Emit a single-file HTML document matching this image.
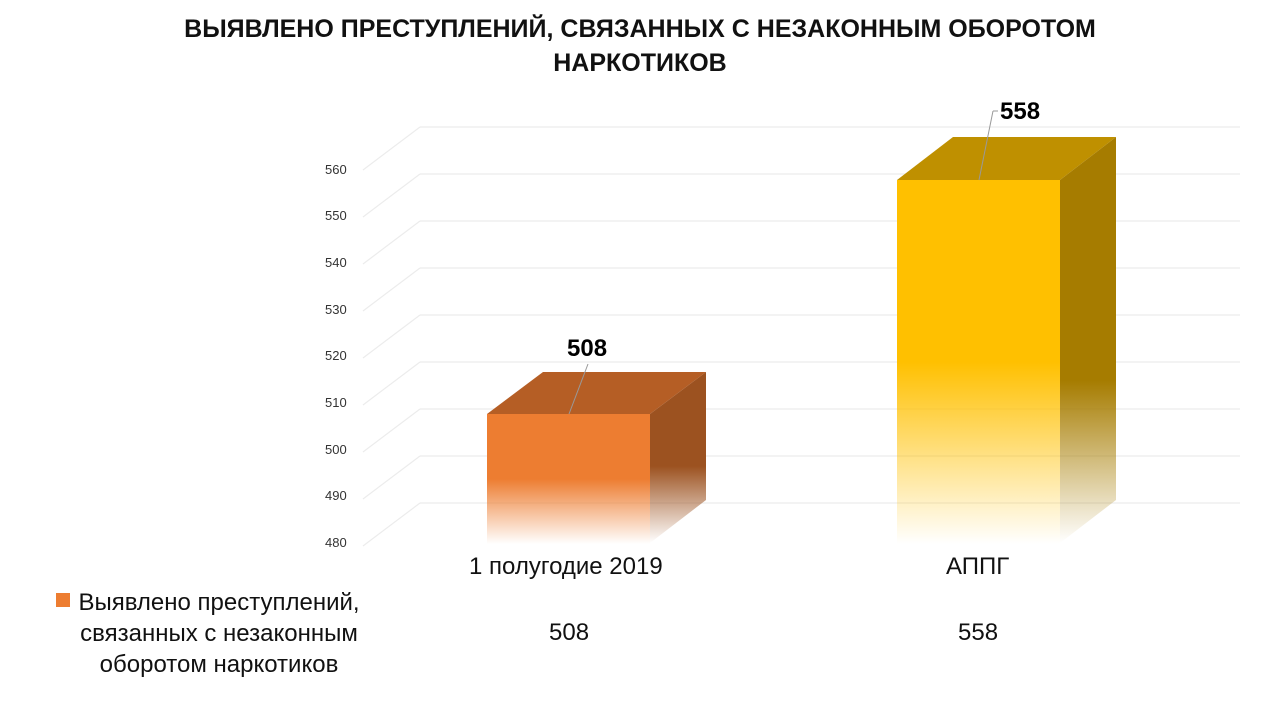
<!DOCTYPE html>
<html><head><meta charset="utf-8"><style>
body{margin:0;width:1280px;height:720px;background:#fff;overflow:hidden;font-family:"Liberation Sans",sans-serif;}
.t{position:absolute;left:0;width:1280px;text-align:center;font-weight:bold;font-size:25px;color:#111;}
.a{position:absolute;font-size:13px;color:#333;}
.c{position:absolute;font-size:24px;color:#111;}
</style></head><body>
<div class="t" style="top:15px">ВЫЯВЛЕНО ПРЕСТУПЛЕНИЙ, СВЯЗАННЫХ С НЕЗАКОННЫМ ОБОРОТОМ</div>
<div class="t" style="top:49px">НАРКОТИКОВ</div>
<svg width="1280" height="720" style="position:absolute;left:0;top:0">
<defs>
<linearGradient id="of" x1="0" y1="0" x2="0" y2="1"><stop offset="0" stop-color="#ed7d31"/><stop offset="0.5" stop-color="#ed7d31"/><stop offset="1" stop-color="#ed7d31" stop-opacity="0"/></linearGradient>
<linearGradient id="os" x1="0" y1="0" x2="0" y2="1"><stop offset="0" stop-color="#9c5220"/><stop offset="0.55" stop-color="#9c5220"/><stop offset="1" stop-color="#9c5220" stop-opacity="0"/></linearGradient>
<linearGradient id="gf" x1="0" y1="0" x2="0" y2="1"><stop offset="0" stop-color="#ffc000"/><stop offset="0.5" stop-color="#ffc000"/><stop offset="1" stop-color="#ffc000" stop-opacity="0"/></linearGradient>
<linearGradient id="gs" x1="0" y1="0" x2="0" y2="1"><stop offset="0" stop-color="#a67c00"/><stop offset="0.6" stop-color="#a67c00"/><stop offset="1" stop-color="#a67c00" stop-opacity="0"/></linearGradient>
</defs>
<g stroke="#ececec" stroke-width="1.2" fill="none">
<path d="M420 127H1240M420 174H1240M420 221H1240M420 268H1240M420 315H1240M420 362H1240M420 409H1240M420 456H1240M420 503H1240"/>
<path d="M363 170L420 127M363 217L420 174M363 264L420 221M363 311L420 268M363 358L420 315M363 405L420 362M363 452L420 409M363 499L420 456M363 546L420 503"/>
</g>
<polygon points="487,414 650,414 706,372 543,372" fill="#b55e25"/>
<polygon points="650,414 706,372 706,500 650,543" fill="url(#os)"/>
<rect x="487" y="414" width="163" height="130" fill="url(#of)"/>
<polygon points="897,180 1060,180 1116,137 953,137" fill="#bf9000"/>
<polygon points="1060,180 1116,137 1116,500 1060,543" fill="url(#gs)"/>
<rect x="897" y="180" width="163" height="364" fill="url(#gf)"/>
<line x1="588" y1="364" x2="569" y2="414" stroke="#999"/>
<line x1="993" y1="111" x2="979" y2="180" stroke="#999"/>
<line x1="993" y1="111" x2="998" y2="111" stroke="#999"/>
<rect x="56" y="593" width="14" height="14" fill="#ed7d31"/>
</svg>
<div style="position:absolute;left:567px;top:335px;font-weight:bold;font-size:24px">508</div>
<div style="position:absolute;left:1000px;top:98px;font-weight:bold;font-size:24px">558</div>
<div class="a" style="left:325px;top:162px">560</div>
<div class="a" style="left:325px;top:208px">550</div>
<div class="a" style="left:325px;top:255px">540</div>
<div class="a" style="left:325px;top:302px">530</div>
<div class="a" style="left:325px;top:348px">520</div>
<div class="a" style="left:325px;top:395px">510</div>
<div class="a" style="left:325px;top:442px">500</div>
<div class="a" style="left:325px;top:488px">490</div>
<div class="a" style="left:325px;top:535px">480</div>
<div class="c" style="left:469px;top:553px">1 полугодие 2019</div>
<div class="c" style="left:946px;top:553px">АППГ</div>
<div class="c" style="left:549px;top:619px">508</div>
<div class="c" style="left:958px;top:619px">558</div>
<div class="c" style="left:59px;top:587px;width:320px;text-align:center;line-height:31px">Выявлено преступлений, связанных с незаконным оборотом наркотиков</div>
</body></html>
